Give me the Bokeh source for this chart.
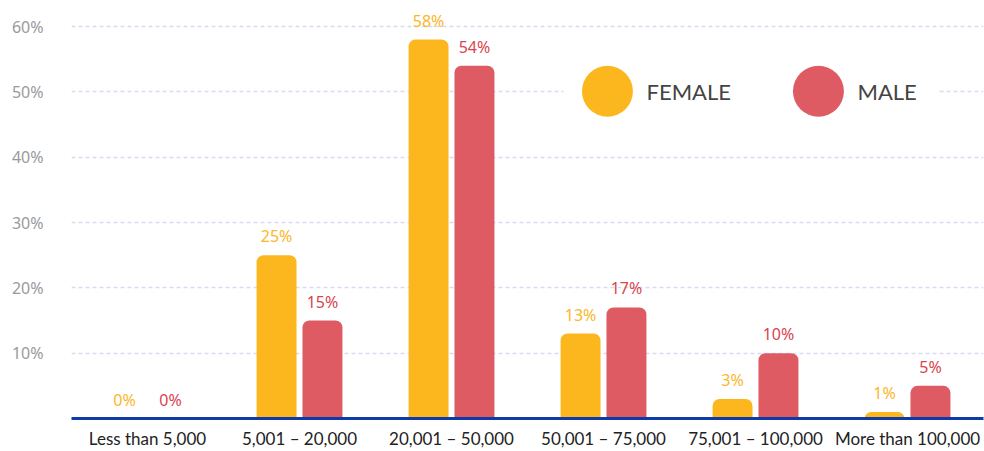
from bokeh.plotting import figure
from bokeh.models import Range1d, FixedTicker, ColumnDataSource
from bokeh.core.properties import value
from bokeh.embed import file_html
from bokeh.resources import INLINE

categories = ["Less than 5,000", "5,001 \u2013 20,000", "20,001 \u2013 50,000",
              "50,001 \u2013 75,000", "75,001 \u2013 100,000", "More than 100,000"]
female = [0, 25, 58, 13, 3, 1]
male = [0, 15, 54, 17, 10, 5]
y_ticks = [10, 20, 30, 40, 50, 60]
series_names = ["FEMALE", "MALE"]

FEMALE_C = "#FDB71E"
MALE_C = "#DF5B64"
FEMALE_TXT = "#FBB62A"
MALE_TXT = "#D9444F"

centers = [i + 0.5 for i in range(len(categories))]
off = 0.151
bw = 0.263

p = figure(width=984, height=451, output_backend="svg", toolbar_location=None,
           x_range=Range1d(0, len(categories)), y_range=Range1d(0, 62.45),
           min_border_left=71, min_border_right=1, min_border_top=10, min_border_bottom=0)
p.outline_line_color = None
p.background_fill_color = "white"
p.border_fill_color = "white"

# axes
p.xaxis.ticker = FixedTicker(ticks=centers)
p.xaxis.major_label_overrides = {c: lab for c, lab in zip(centers, categories)}
p.xaxis.axis_line_color = "#0F3BA8"
p.xaxis.axis_line_width = 3
p.xaxis.major_tick_line_color = None
p.xaxis.major_tick_out = 0
p.xaxis.major_tick_in = 0
p.xaxis.minor_tick_line_color = None
p.xaxis.minor_tick_out = 0
p.xaxis.major_label_standoff = 9
p.xaxis.major_label_text_font = "Lato"
p.xaxis.major_label_text_font_size = "17px"
p.xaxis.major_label_text_color = "#222222"

p.yaxis.ticker = FixedTicker(ticks=y_ticks)
p.yaxis.major_label_overrides = {t: f"{t}%" for t in y_ticks}
p.yaxis.axis_line_color = None
p.yaxis.major_tick_line_color = None
p.yaxis.major_tick_out = 0
p.yaxis.minor_tick_line_color = None
p.yaxis.minor_tick_out = 0
p.yaxis.major_label_standoff = 28
p.yaxis.major_label_text_font = "Noto Sans"
p.yaxis.major_label_text_font_size = "16px"
p.yaxis.major_label_text_color = "#9A9A9A"

p.xgrid.grid_line_color = None
p.ygrid.ticker = FixedTicker(ticks=y_ticks)
p.ygrid.grid_line_color = "#D6DCF2"
p.ygrid.grid_line_width = 1.5
p.ygrid.grid_line_dash = "4 3"

fx = [c - off for c in centers]
mx = [c + off for c in centers]
src_f = ColumnDataSource(dict(x=fx, top=female, lab=[f"{v}%" for v in female]))
src_m = ColumnDataSource(dict(x=mx, top=male, lab=[f"{v}%" for v in male]))

p.vbar(x="x", top="top", width=bw, bottom=0, source=src_f, fill_color=FEMALE_C,
       line_color=None, border_radius=(7, 7, 0, 0))
p.vbar(x="x", top="top", width=bw, bottom=0, source=src_m, fill_color=MALE_C,
       line_color=None, border_radius=(7, 7, 0, 0))

for src, col in ((src_f, FEMALE_TXT), (src_m, MALE_TXT)):
    p.text(x="x", y="top", text="lab", source=src, text_align="center",
           text_baseline="bottom", y_offset=-8, text_color=col,
           text_font=value("Noto Sans"), text_font_size="16px")

# legend (drawn manually)
p.quad(left=[3.237], right=[5.704], bottom=[45.0], top=[55.0], fill_color="white", line_color=None)
leg_x = [3.526, 4.914]
leg_y = [50.1, 50.1]
p.scatter(x=leg_x, y=leg_y, size=51, marker="circle", fill_color=[FEMALE_C, MALE_C], line_color=None)
p.text(x=[3.783, 5.171], y=[50.0, 50.0], text=series_names, text_align="left",
       text_baseline="middle", text_color="#444444", text_font=value("Lato"),
       text_font_size="22px")

open("out.html", "w").write(file_html(p, INLINE))
